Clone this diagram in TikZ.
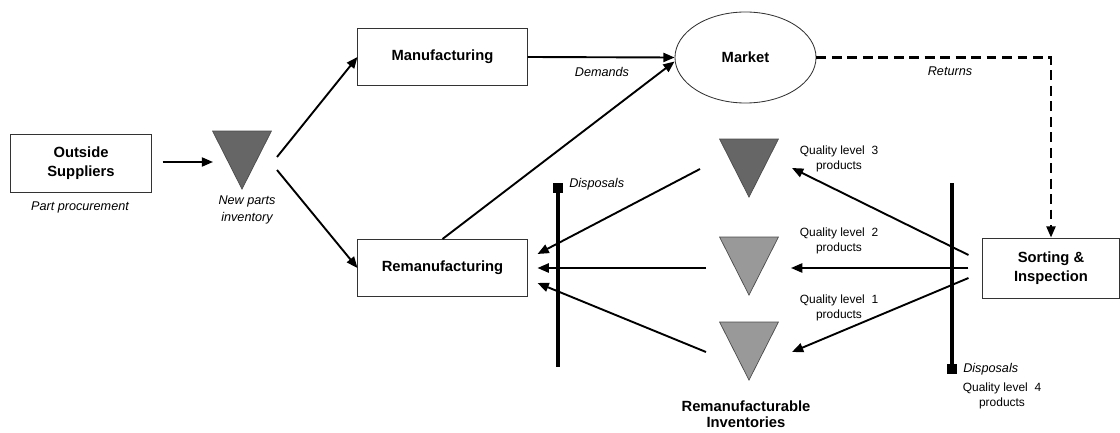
\documentclass[tikz,border=0pt]{standalone}
\usepackage{fontspec}
\setmainfont{Liberation Sans}
\usetikzlibrary{shapes.geometric, arrows.meta, positioning, calc}
\definecolor{invdark}{HTML}{666666}
\definecolor{invlight}{HTML}{999999}

\begin{document}
\begin{tikzpicture}[
  x=0.025cm, y=-0.025cm,
  box/.style={rectangle, draw=black!80, line width=0.7pt, minimum width=4.225cm, minimum height=1.425cm, font=\fontsize{10.5}{13.5}\selectfont\bfseries, align=center, inner sep=0pt},
  oval/.style={ellipse, draw=black!80, line width=0.6pt, minimum width=3.525cm, minimum height=2.275cm, font=\fontsize{10.5}{13.5}\selectfont\bfseries, inner sep=0pt},
  inv/.style={isosceles triangle, isosceles triangle stretches, shape border rotate=-90, draw=black!70, line width=0.5pt, minimum width=1.47cm, minimum height=1.45cm, inner sep=0pt, anchor=apex},
  lbl/.style={font=\fontsize{9}{11.5}\selectfont\itshape, align=center, inner sep=0pt},
  qlbl/.style={font=\fontsize{8.5}{10.7}\selectfont, align=center, inner sep=0pt},
  title/.style={font=\fontsize{10.5}{11.5}\selectfont\bfseries, align=center, inner sep=0pt},
  arr/.style={-{Triangle[length=8pt, width=6.5pt]}, line width=1.35pt},
  ret/.style={arr, line width=1.5pt, dash pattern=on 7pt off 4pt},
  bar/.style={line width=2.2pt},
  stub/.style={rectangle, fill=black, minimum size=7pt, inner sep=0pt},
]
\useasboundingbox (0,0) rectangle (1120,433);

%% Supply side
\node[box, minimum width=3.5cm, minimum height=1.45cm] (sup) at (81,163) {Outside\\Suppliers};
\node[lbl] (procure) at (80,207) {Part procurement};
\node[inv, fill=invdark] (new) at (242,190) {};
\node[lbl] (newlbl) at (247,210) {New parts\\inventory};

%% Production and market
\node[box] (manu)   at (442.5,57)  {Manufacturing};
\node[box] (reman)  at (442.5,268) {Remanufacturing};
\node[oval] (market) at (745.5,57.5) {Market};
\node[lbl] (dem)    at (602,72) {Demands};
\node[lbl] (retlbl) at (950,71) {Returns};
\node[box, minimum width=3.4cm, minimum height=1.5cm] (sort) at (1051,268) {Sorting \&\\Inspection};

%% Remanufacturable inventories
\foreach \q/\y/\c in {q3/198/invdark, q2/296/invlight, q1/381/invlight} {
  \node[inv, fill=\c] (\q) at (749,\y) {};
}
\node[title] (remlbl) at (746,414) {Remanufacturable\\Inventories};
\node[qlbl] (ql3) at (839,159)   {Quality level\ \ 3\\products};
\node[qlbl] (ql2) at (839,240.5) {Quality level\ \ 2\\products};
\node[qlbl] (ql1) at (839,307.5) {Quality level\ \ 1\\products};
\node[qlbl] (ql4) at (1002,395.5) {Quality level\ \ 4\\products};

%% Disposals
\node[stub] (stubL) at (558,188) {};
\coordinate (barL) at (558,367);
\draw[bar] (stubL.center) -- (barL);
\node[lbl, anchor=west] (displ) at (569,184) {Disposals};
\node[stub] (stubR) at (952,369) {};
\coordinate (barR) at (952,183);
\draw[bar] (barR) -- (stubR.center);
\node[lbl, anchor=west] (dispr) at (963,369) {Disposals};

%% Flows
\draw[arr] ($(sup.east)+(11,-1)$) -- ($(new.apex)+(-29,-28)$);
\draw[arr] ($(new.apex)+(35,-33)$) -- (manu.west);
\draw[arr] ($(new.apex)+(35,-20)$) -- (reman.west);
\draw[arr] (manu.east) -- (market.west);
\draw[arr] (reman.north) -- ($(market.west)+(0,4)$);
\draw[ret] (market.east) -| (sort.north);

%% Sorting to inventories
\draw[arr] ($(sort.west)+(-14,-13)$) -- ($(q3.apex)+(43,-30)$);
\draw[arr] ($(sort.west)+(-14,0)$)   -- ($(q2.apex)+(42,-28)$);
\draw[arr] ($(sort.west)+(-14,10)$)  -- ($(q1.apex)+(43,-29)$);

%% Inventories to remanufacturing
\draw[arr] ($(q3.apex)+(-49,-29)$) -- ($(reman.east)+(10,-14)$);
\draw[arr] ($(q2.apex)+(-43,-28)$) -- ($(reman.east)+(10,0)$);
\draw[arr] ($(q1.apex)+(-43,-29)$) -- ($(reman.east)+(10,15)$);
\end{tikzpicture}
\end{document}
